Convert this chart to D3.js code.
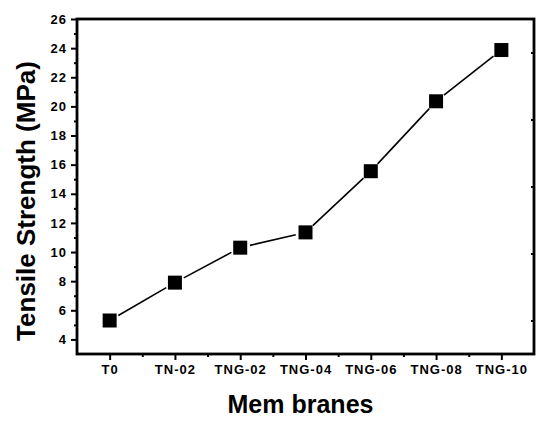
<!DOCTYPE html>
<html><head><meta charset="utf-8">
<script src="https://cdn.jsdelivr.net/npm/d3@7"></script>
<style>body{margin:0;background:#fff}svg{display:block}text{font-family:"Liberation Sans",Arial,sans-serif;font-weight:bold;fill:#000}</style>
</head><body>
<script>
const categories = ["T0","TN-02","TNG-02","TNG-04","TNG-06","TNG-08","TNG-10"];
const strength = [5.3, 7.9, 10.3, 11.35, 15.55, 20.35, 23.87];
const yTicks = [4,6,8,10,12,14,16,18,20,22,24,26];
const yMinor = [5,7,9,11,13,15,17,19,21,23,25];
const rightTicks = [23.7, 19.1, 14.5, 9.9, 5.3];
const xTitle = "Mem branes";
const yTitle = "Tensile Strength (MPa)";

const W = 550, H = 426;
const m = {l:77, r:534, t:19, b:354};
const svg = d3.select("body").append("svg").attr("width", W).attr("height", H);

const x = d3.scaleLinear().domain([-0.5, categories.length - 0.5]).range([m.l, m.r]);
const y = d3.scaleLinear().domain([3, 26]).range([m.b, m.t]);

// Frame
svg.append("rect").attr("x", m.l).attr("y", m.t).attr("width", m.r - m.l).attr("height", m.b - m.t)
  .attr("fill", "none").attr("stroke", "#000").attr("stroke-width", 2.8);

// Y axis
const yAxis = d3.axisLeft(y).tickValues(yTicks).tickSize(6).tickPadding(4).tickFormat(d3.format("d"));
const gy = svg.append("g").attr("transform", `translate(${m.l},0)`).call(yAxis);
gy.select(".domain").remove();
gy.selectAll(".tick line").attr("stroke-width", 2);
gy.selectAll("text").style("font-size", "13px").style("letter-spacing", "1px");
const gym = svg.append("g").attr("transform", `translate(${m.l},0)`)
  .call(d3.axisLeft(y).tickValues(yMinor).tickSize(3).tickFormat(""));
gym.select(".domain").remove();
gym.selectAll(".tick line").attr("stroke-width", 2);

// Right axis inner ticks
const gr = svg.append("g").attr("transform", `translate(${m.r},0)`)
  .call(d3.axisLeft(y).tickValues(rightTicks).tickSize(3).tickFormat(""));
gr.select(".domain").remove();
gr.selectAll(".tick line").attr("stroke-width", 2);

// X axis
const xAxis = d3.axisBottom(x).tickValues(d3.range(categories.length)).tickSize(6).tickPadding(5)
  .tickFormat(i => categories[i]);
const gx = svg.append("g").attr("transform", `translate(0,${m.b})`).call(xAxis);
gx.select(".domain").remove();
gx.selectAll(".tick line").attr("stroke-width", 2);
gx.selectAll("text").style("font-size", "13px").style("letter-spacing", "1px");
const gxm = svg.append("g").attr("transform", `translate(0,${m.b})`)
  .call(d3.axisBottom(x).tickValues(d3.range(categories.length - 1).map(i => i + 0.5)).tickSize(3).tickFormat(""));
gxm.select(".domain").remove();
gxm.selectAll(".tick line").attr("stroke-width", 2);

// Line segments with gaps around markers
const pts = strength.map((v, i) => [x(i), y(v)]);
const gap = 10;
for (let i = 0; i < pts.length - 1; i++) {
  const [x1, y1] = pts[i], [x2, y2] = pts[i + 1];
  const dx = x2 - x1, dy = y2 - y1, L = Math.hypot(dx, dy);
  const ux = dx / L, uy = dy / L;
  svg.append("line")
    .attr("x1", x1 + ux * gap).attr("y1", y1 + uy * gap)
    .attr("x2", x2 - ux * gap).attr("y2", y2 - uy * gap)
    .attr("stroke", "#000").attr("stroke-width", 1.6);
}

// Markers
const s = 14;
svg.append("g").selectAll("rect").data(strength).join("rect")
  .attr("x", (d, i) => x(i) - s / 2).attr("y", d => y(d) - s / 2)
  .attr("width", s).attr("height", s).attr("fill", "#000");

// Titles
svg.append("text").attr("x", (m.l + m.r) / 2 - 5).attr("y", 413).attr("text-anchor", "middle")
  .style("font-size", "25px").text(xTitle);
svg.append("text").attr("transform", `translate(35,201) rotate(-90)`).attr("text-anchor", "middle")
  .style("font-size", "26px").text(yTitle);
</script>
</body></html>
